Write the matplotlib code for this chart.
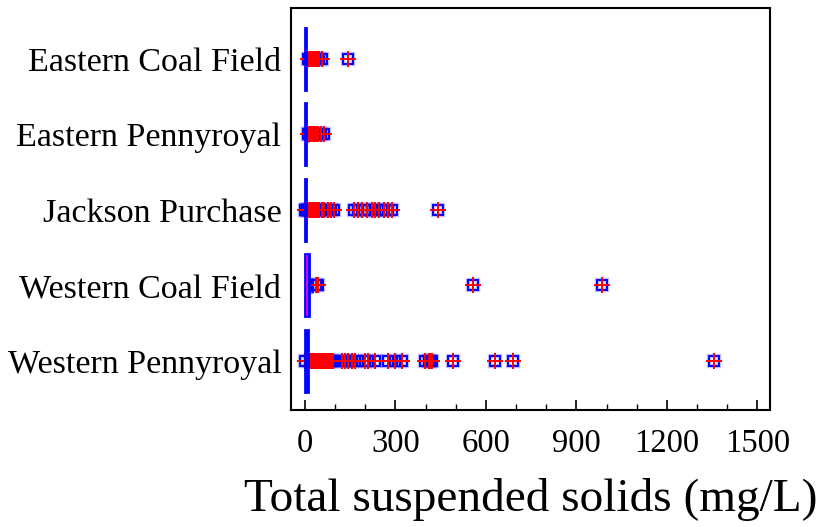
import numpy as np
import matplotlib.pyplot as plt
from matplotlib.ticker import MultipleLocator

plt.rcParams['font.family'] = ['Liberation Serif', 'DejaVu Serif']

# categories, top to bottom
regions = ['Eastern Coal Field', 'Eastern Pennyroyal', 'Jackson Purchase',
           'Western Coal Field', 'Western Pennyroyal']

# box statistics (mg/L)
q1 = [1, 1, 1, 1, 1]
median = [2, 3, 3, 8, 4]
q3 = [4, 5, 5, 14, 9]
whisker_hi = [8, 11, 11, 24, 16]

# outliers per region
out_ecf = [12, 16, 22, 27, 33, 40, 48, 57, 143]
out_epy = [9, 14, 19, 24, 30, 36, 45, 55, 65]
out_jp = [0, 3, 6, 10, 14, 18, 22, 27, 33, 40, 48, 56, 64, 77, 85, 97,
          163, 177, 190, 205, 221, 232, 245, 261, 276, 290, 442]
out_wcf = [36, 42, 558, 985]
out_wpy = [0, 18, 22, 26, 30, 34, 38, 42, 46, 50, 55, 60, 65, 70, 76, 82, 88, 94,
           122, 133, 144, 155, 166, 199, 210, 232, 276, 299, 321,
           398, 413, 416, 420, 490, 631, 689, 1355]
outliers = [out_ecf, out_epy, out_jp, out_wcf, out_wpy]

ypos = np.arange(len(regions), 0, -1)

fig = plt.figure(figsize=(8.22, 5.27), dpi=100)
ax = fig.add_axes([291 / 822, 1 - 410 / 527, 479 / 822, 402 / 527])

blue = (0, 0, 1)
for i, y in enumerate(ypos):
    # whisker and cap
    ax.hlines(y, q3[i], whisker_hi[i], color=blue, lw=1.5, zorder=2)
    ax.vlines(whisker_hi[i], y - 0.1, y + 0.1, color=blue, lw=1.8, zorder=2)
    # outliers: open squares with red plus
    xs = outliers[i]
    ax.plot(xs, [y] * len(xs), ls='none', marker='s', ms=7.5, mfc='none',
            mec=blue, mew=3.2, alpha=0.25, zorder=3)
    ax.plot(xs, [y] * len(xs), ls='none', marker='s', ms=7.5, mfc='none',
            mec=blue, mew=1.4, zorder=4)
    ax.plot(xs, [y] * len(xs), ls='none', marker='+', ms=11, mec='red',
            mew=1.4, zorder=5)

# boxes
ax.barh(ypos, np.array(q3) - np.array(q1), left=q1, height=0.82,
        color=blue, edgecolor=blue, lw=2.0, zorder=6)
# median only visible where the box is wide enough
for i, y in enumerate(ypos):
    if q3[i] - q1[i] > 10:
        ax.vlines(median[i], y - 0.4, y + 0.4, color='magenta', lw=1.2, zorder=7)

ax.set_xlim(-46, 1542)
ax.set_ylim(0.35, 5.675)
ax.set_yticks(ypos)
ax.set_yticklabels(regions, fontsize=24.5)
ax.tick_params(axis='y', length=0, pad=7)

ax.xaxis.set_major_locator(MultipleLocator(300))
ax.xaxis.set_minor_locator(MultipleLocator(100))
ax.tick_params(axis='x', which='major', direction='in', length=7, width=1.2,
               labelsize=23.5, pad=13, top=False)
ax.tick_params(axis='x', which='minor', direction='in', length=4, width=1.0, top=False)

for s in ax.spines.values():
    s.set_linewidth(1.5)

ax.set_xlabel('Total suspended solids (mg/L)', fontsize=34, labelpad=14)

fig.savefig('out.png', dpi=100)
